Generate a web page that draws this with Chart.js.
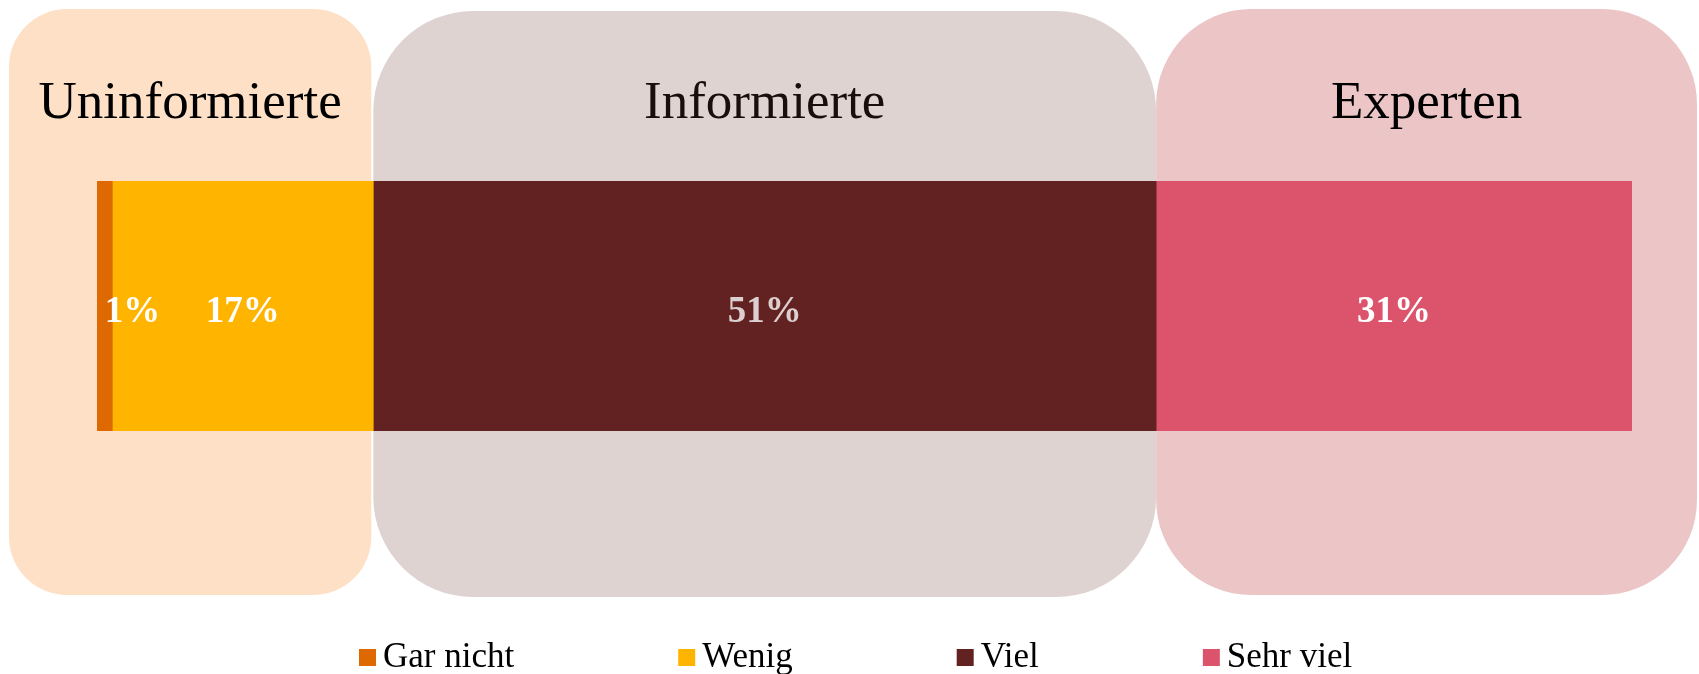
<!DOCTYPE html>
<html>
<head>
<meta charset="utf-8">
<script src="https://cdn.jsdelivr.net/npm/chart.js@4.4.1/dist/chart.umd.min.js"></script>
<style>
  html, body { margin: 0; padding: 0; background: #fff; }
  #wrap { width: 1699px; height: 674px; }
</style>
</head>
<body>
<div id="wrap"><canvas id="chart"></canvas></div>
<script>
// answers (share of respondents, %)
const series = ["Gar nicht", "Wenig", "Viel", "Sehr viel"];
const values = [1, 17, 51, 31];
const valueLabels = ["1%", "17%", "51%", "31%"];
const barColors = ["#dd6900", "#ffb500", "#622222", "#dc546b"];
const labelColors = ["#ffffff", "#ffffff", "#dccfcf", "#ffffff"];

// groups drawn as rounded panels behind the bar
const groups = ["Uninformierte", "Informierte", "Experten"];
const groupFirst = [0, 2, 3]; // first series in group
const groupLast = [1, 2, 3];  // last series in group
const groupColors = ["#fde0c5", "#ded3d1", "#ecc6c6"];

const FONT = "'Liberation Serif', 'Times New Roman', serif";

function rrect(ctx, x, y, w, h, r) {
  ctx.beginPath();
  ctx.moveTo(x + r, y);
  ctx.lineTo(x + w - r, y);
  ctx.arcTo(x + w, y, x + w, y + r, r);
  ctx.lineTo(x + w, y + h - r);
  ctx.arcTo(x + w, y + h, x + w - r, y + h, r);
  ctx.lineTo(x + r, y + h);
  ctx.arcTo(x, y + h, x, y + h - r, r);
  ctx.lineTo(x, y + r);
  ctx.arcTo(x, y, x + r, y, r);
  ctx.closePath();
}

const panels = {
  id: "panels",
  beforeDatasetsDraw(chart) {
    const ctx = chart.ctx;
    const xs = chart.scales.x;
    const cum = [0];
    values.forEach(v => cum.push(cum[cum.length - 1] + v));
    const boxes = [
      { l: 9, r: xs.getPixelForValue(cum[groupLast[0] + 1]) - 2, t: 9, b: 595, rad: 58 },
      { l: xs.getPixelForValue(cum[groupFirst[1]]), r: xs.getPixelForValue(cum[groupLast[1] + 1]), t: 11, b: 597, rad: 100 },
      { l: xs.getPixelForValue(cum[groupFirst[2]]), r: 1697, t: 9, b: 595, rad: 95 }
    ];
    ctx.save();
    boxes.forEach((bx, i) => {
      ctx.fillStyle = groupColors[i];
      rrect(ctx, bx.l, bx.t, bx.r - bx.l, bx.b - bx.t, bx.rad);
      ctx.fill();
      ctx.fillStyle = i === 1 ? "#1a0d0d" : "#000";
      ctx.font = "53px " + FONT;
      ctx.textAlign = "center";
      ctx.textBaseline = "alphabetic";
      ctx.fillText(groups[i], (bx.l + bx.r) / 2, 118);
    });
    ctx.restore();
  }
};

const barLabels = {
  id: "barLabels",
  afterDatasetsDraw(chart) {
    const ctx = chart.ctx;
    ctx.save();
    ctx.font = "bold 37px " + FONT;
    ctx.textBaseline = "middle";
    chart.data.datasets.forEach((ds, i) => {
      const bar = chart.getDatasetMeta(i).data[0];
      const cx = (bar.x + bar.base) / 2;
      const w = ctx.measureText(valueLabels[i]).width;
      ctx.fillStyle = labelColors[i];
      ctx.textAlign = w > Math.abs(bar.x - bar.base) ? "left" : "center";
      ctx.fillText(valueLabels[i], cx, bar.y + 6);
    });
    ctx.restore();
  }
};

const legendRow = {
  id: "legendRow",
  afterDraw(chart) {
    const ctx = chart.ctx;
    ctx.save();
    ctx.font = "35px " + FONT;
    ctx.textBaseline = "alphabetic";
    ctx.textAlign = "left";
    let x = 359;
    chart.data.datasets.forEach(ds => {
      ctx.fillStyle = ds.backgroundColor;
      ctx.fillRect(x, 649, 17, 17);
      ctx.fillStyle = "#000";
      ctx.fillText(ds.label, x + 24, 667);
      x += 24 + ctx.measureText(ds.label).width + 164;
    });
    ctx.restore();
  }
};

const ctx = document.getElementById("chart");

const myChart = new Chart(ctx, {
  type: "bar",
  data: {
    labels: [""],
    datasets: series.map((name, i) => ({
      label: name,
      data: [values[i]],
      backgroundColor: barColors[i],
      borderWidth: 0,
      barPercentage: 1,
      categoryPercentage: 1
    }))
  },
  options: {
    indexAxis: "y",
    responsive: true,
    maintainAspectRatio: false,
    animation: false,
    layout: { padding: { left: 97, right: 67, top: 181, bottom: 243 } },
    scales: {
      x: { stacked: true, min: 0, max: 100, display: false },
      y: { stacked: true, display: false }
    },
    plugins: {
      legend: { display: false },
      tooltip: { enabled: false }
    }
  },
  plugins: [panels, barLabels, legendRow]
});
</script>
</body>
</html>
